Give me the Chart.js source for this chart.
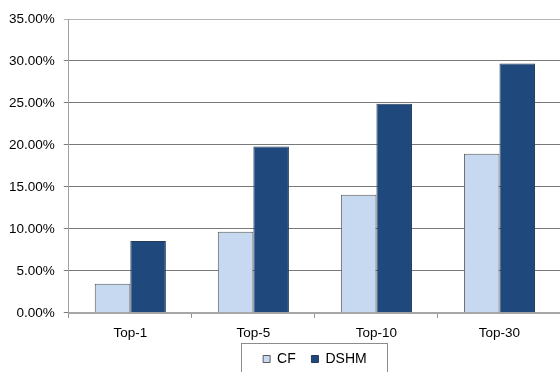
<!DOCTYPE html>
<html>
<head>
<meta charset="utf-8">
<script src="https://cdn.jsdelivr.net/npm/chart.js@4/dist/chart.umd.min.js"></script>
<style>
  html, body { margin: 0; padding: 0; background: #fff; overflow: hidden; width: 560px; height: 372px; }
  #wrap { width: 564px; height: 372px; }
</style>
</head>
<body>
<div id="wrap"><canvas id="c" width="564" height="372"></canvas></div>
<script>
const categories = ['Top-1', 'Top-5', 'Top-10', 'Top-30'];
const seriesNames = ['CF', 'DSHM'];
const cfValues = [3.45, 9.65, 14.05, 18.95];
const dshmValues = [8.55, 19.8, 24.9, 29.7];
const yTickValues = [0, 5, 10, 15, 20, 25, 30, 35];

const FONT = '"Liberation Sans", Arial, sans-serif';

const legendBorder = {
  id: 'legendBorder',
  afterDraw(chart) {
    const lg = chart.legend;
    if (!lg || !lg.legendHitBoxes || !lg.legendHitBoxes.length) return;
    const hb = lg.legendHitBoxes;
    let l = Infinity, r = -Infinity, t = Infinity;
    hb.forEach(b => { l = Math.min(l, b.left); r = Math.max(r, b.left + b.width); t = Math.min(t, b.top); });
    const ctx = chart.ctx;
    ctx.save();
    ctx.strokeStyle = '#8c8c8c';
    ctx.lineWidth = 1;
    ctx.strokeRect(Math.round(l - 22) + 0.5, Math.round(t - 9) + 0.5, Math.round(r - l + 42), 60);
    ctx.restore();
  }
};

new Chart(document.getElementById('c'), {
  type: 'bar',
  data: {
    labels: categories,
    datasets: [
      { label: seriesNames[0], data: cfValues, backgroundColor: '#c6d9f0', borderColor: '#5a5a5a', borderWidth: 1,
        categoryPercentage: 0.578, barPercentage: 1.0 },
      { label: seriesNames[1], data: dshmValues, backgroundColor: '#1f497d', borderColor: '#263b5a', borderWidth: 1,
        categoryPercentage: 0.578, barPercentage: 1.0 }
    ]
  },
  options: {
    responsive: false,
    devicePixelRatio: 1,
    animation: false,
    layout: { padding: { left: 0, right: 3, top: 19, bottom: -4 } },
    plugins: {
      title: { display: false },
      tooltip: { enabled: false },
      legend: {
        display: true,
        position: 'bottom',
        fullSize: false,
        labels: {
          boxWidth: 7, boxHeight: 7,
          padding: 4,
          color: '#000',
          font: { family: FONT, size: 14 },
          generateLabels(chart) {
            const items = Chart.defaults.plugins.legend.labels.generateLabels(chart);
            items.forEach((it, i) => { if (i < items.length - 1) it.text = it.text + '\u00a0\u00a0\u00a0'; });
            return items;
          }
        }
      }
    },
    scales: {
      x: {
        grid: { display: true, offset: true, drawOnChartArea: false, drawTicks: true, tickLength: 5, color: '#909090' },
        border: { display: true, color: '#a6a6a6', width: 2 },
        ticks: { color: '#000', padding: 7, font: { family: FONT, size: 13.5 } }
      },
      y: {
        min: 0, max: 35,
        afterBuildTicks(axis) { axis.ticks = yTickValues.map(v => ({ value: v })); },
        grid: {
          color: ctx => (ctx.tick && ctx.tick.value === 35) ? '#b4b4b4' : '#7a7a7a',
          tickLength: 5,
          drawTicks: true
        },
        border: { display: true, color: '#a0a0a0', width: 1 },
        ticks: {
          color: '#000', padding: 9,
          font: { family: FONT, size: 13.5 },
          callback: v => Number(v).toFixed(2) + '%'
        }
      }
    }
  },
  plugins: [legendBorder]
});
</script>
</body>
</html>
